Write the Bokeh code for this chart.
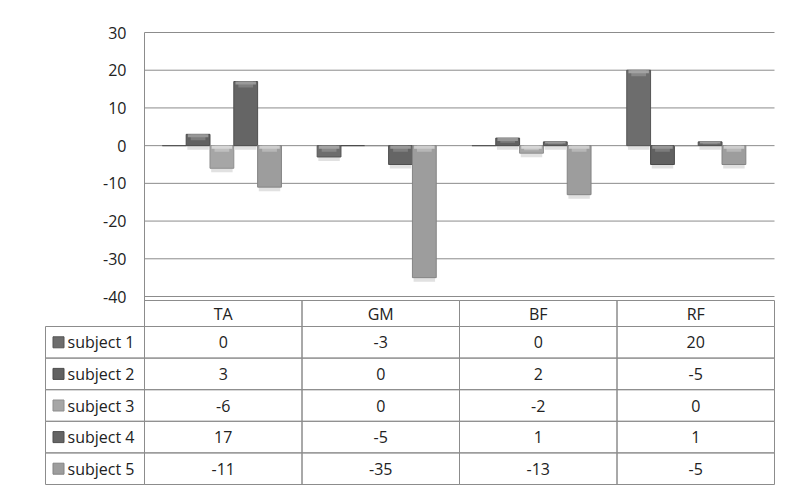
from bokeh.plotting import figure
from bokeh.models import Range1d, FixedTicker, ColumnDataSource
from bokeh.embed import file_html
from bokeh.resources import INLINE
from bokeh.core.properties import value

# ---------------- data ----------------
categories = ["TA", "GM", "BF", "RF"]
series_names = ["subject 1", "subject 2", "subject 3", "subject 4", "subject 5"]
subject_1 = [0, -3, 0, 20]
subject_2 = [3, 0, 2, -5]
subject_3 = [-6, 0, -2, 0]
subject_4 = [17, -5, 1, 1]
subject_5 = [-11, -35, -13, -5]
y_ticks = [-40, -30, -20, -10, 0, 10, 20, 30]
series_values = [subject_1, subject_2, subject_3, subject_4, subject_5]

# ---------------- style ----------------
W, H = 791, 489
FONT = "Open Sans"
TEXT = "#222222"
GRID = "#8c8c8c"
FS = "16px"
colors = ["#6d6d6d", "#616161", "#a6a6a6", "#656565", "#9d9d9d"]
edge_colors = ["#555555", "#4b4b4b", "#8e8e8e", "#4f4f4f", "#848484"]
hi1_colors = ["#a3a3a3", "#979797", "#d6d6d6", "#9a9a9a", "#cdcdcd"]
hi2_colors = ["#888888", "#7c7c7c", "#bfbfbf", "#7f7f7f", "#b7b7b7"]
SHADOW = "#c4c4c4"

# layout in pixels
PAD = 2
TOP_PAD = 14
CHART_PX = 264
GAP_PX = 4
HDR_PX = 26
ROW_PX = 31.6
CAT_PX = 157.5
BAR_CAT_PX = 154.8
LEG_PX = 99
BORDER_TOP = 18
BORDER_LEFT = 43

nc = len(categories)
n = len(series_names)
Y0, Y1 = y_ticks[0], y_ticks[-1]
px_unit = CHART_PX / (Y1 - Y0)
below_px = GAP_PX + HDR_PX + n * ROW_PX
frame_h = TOP_PAD + CHART_PX + below_px + PAD
frame_w = LEG_PX + nc * CAT_PX + 2 * PAD

LEG = LEG_PX / CAT_PX
HDR = HDR_PX / ROW_PX

p = figure(width=W, height=H,
           x_range=Range1d(-LEG - PAD / CAT_PX, nc + PAD / CAT_PX),
           y_range=Range1d(Y0 - (below_px + PAD) / px_unit, Y1 + TOP_PAD / px_unit),
           output_backend="svg", toolbar_location=None,
           x_axis_location=None,
           min_border_left=BORDER_LEFT, min_border_right=int(W - BORDER_LEFT - frame_w),
           min_border_top=BORDER_TOP, min_border_bottom=int(H - BORDER_TOP - frame_h))
p.extra_y_ranges = {"table": Range1d(n + PAD / ROW_PX,
                                     -HDR - (GAP_PX + CHART_PX + TOP_PAD) / ROW_PX)}
p.extra_x_ranges = {"bars": Range1d(-(LEG_PX + PAD) / BAR_CAT_PX,
                                    (nc * CAT_PX + PAD) / BAR_CAT_PX)}
p.outline_line_color = None
p.background_fill_color = "white"
p.border_fill_color = "white"
p.xgrid.visible = False
p.ygrid.visible = False

# y axis placed at the start of the first category
yax = p.yaxis[0]
yax.fixed_location = 0
yax.bounds = (Y0 - below_px / px_unit, Y1)
yax.ticker = FixedTicker(ticks=y_ticks)
yax.major_label_overrides = {t: str(t) for t in y_ticks}
yax.axis_line_color = GRID
yax.major_tick_out = 0
yax.major_tick_in = 0
yax.minor_tick_out = 0
yax.minor_tick_in = 0
yax.major_label_standoff = 18
yax.major_label_text_font = FONT
yax.major_label_text_font_size = FS
yax.major_label_text_color = TEXT

# gridlines across the categories
p.segment(x0=[0] * len(y_ticks), x1=[nc] * len(y_ticks), y0=y_ticks, y1=y_ticks,
          line_color=GRID, line_width=1)

# bars (bevelled look: shadow, body, two highlight bands)
bw = 1.0 / (n + 1.5)
h1 = 3 / px_unit
h2 = 6 / px_unit
sh = 4 / px_unit
for i, vals in enumerate(series_values):
    off = (i - (n - 1) / 2) * bw
    xs = [j + 0.5 + off for j in range(nc)]
    tops = [max(v, 0) for v in vals]
    bots = [min(v, 0) for v in vals]
    b1 = [tp - min(h1, abs(v) * 0.4) for tp, v in zip(tops, vals)]
    b2 = [tp - min(h2, abs(v) * 0.6) for tp, v in zip(tops, vals)]
    shb = [b - (sh if v != 0 else 0) for b, v in zip(bots, vals)]
    src = ColumnDataSource(dict(x=xs, top=tops, bottom=bots, b1=b1, b2=b2, shb=shb))
    p.vbar(x='x', top='bottom', bottom='shb', width=bw * 0.9, x_range_name="bars",
           fill_color=SHADOW, fill_alpha=0.5, line_color=None, source=src)
    p.vbar(x='x', top='top', bottom='bottom', width=bw, x_range_name="bars",
           fill_color=colors[i], line_color=edge_colors[i], line_width=1, source=src)
    p.vbar(x='x', top='top', bottom='b2', width=bw * 0.62, x_range_name="bars",
           fill_color=hi2_colors[i], line_color=None, source=src)
    p.vbar(x='x', top='top', bottom='b1', width=bw * 0.86, x_range_name="bars",
           fill_color=hi1_colors[i], line_color=None, source=src)

# ---------------- data table ----------------
TB = "table"
# header cells
p.quad(left=list(range(nc)), right=[j + 1 for j in range(nc)],
       top=[-HDR] * nc, bottom=[0] * nc, y_range_name=TB,
       fill_color=None, line_color=GRID, line_width=1)
p.text(x=[j + 0.5 for j in range(nc)], y=[-HDR / 2] * nc, text=categories, y_range_name=TB,
       text_align="center", text_baseline="middle",
       text_font=value(FONT), text_font_size=FS, text_color=TEXT)

# value cells
L, R, T, B, X, Y, S = [], [], [], [], [], [], []
for i, vals in enumerate(series_values):
    for j, v in enumerate(vals):
        L.append(j); R.append(j + 1); T.append(i); B.append(i + 1)
        X.append(j + 0.5); Y.append(i + 0.5); S.append(str(v))
p.quad(left=L, right=R, top=T, bottom=B, y_range_name=TB,
       fill_color=None, line_color=GRID, line_width=1)
p.text(x=X, y=Y, text=S, y_range_name=TB, text_align="center", text_baseline="middle",
       text_font=value(FONT), text_font_size=FS, text_color=TEXT)

# legend cells
p.quad(left=[-LEG] * n, right=[0] * n, top=list(range(n)), bottom=[i + 1 for i in range(n)],
       y_range_name=TB, fill_color=None, line_color=GRID, line_width=1)
sw_x = -LEG + 13 / CAT_PX
p.scatter(x=[sw_x] * n, y=[i + 0.5 for i in range(n)], y_range_name=TB,
          marker="square", size=11,
          fill_color=colors, line_color=edge_colors, line_width=1)
p.text(x=[-LEG] * n, y=[i + 0.5 for i in range(n)], text=series_names, x_offset=22,
       y_range_name=TB, text_align="left", text_baseline="middle",
       text_font=value(FONT), text_font_size=FS, text_color=TEXT)

open("out.html", "w").write(file_html(p, INLINE))
